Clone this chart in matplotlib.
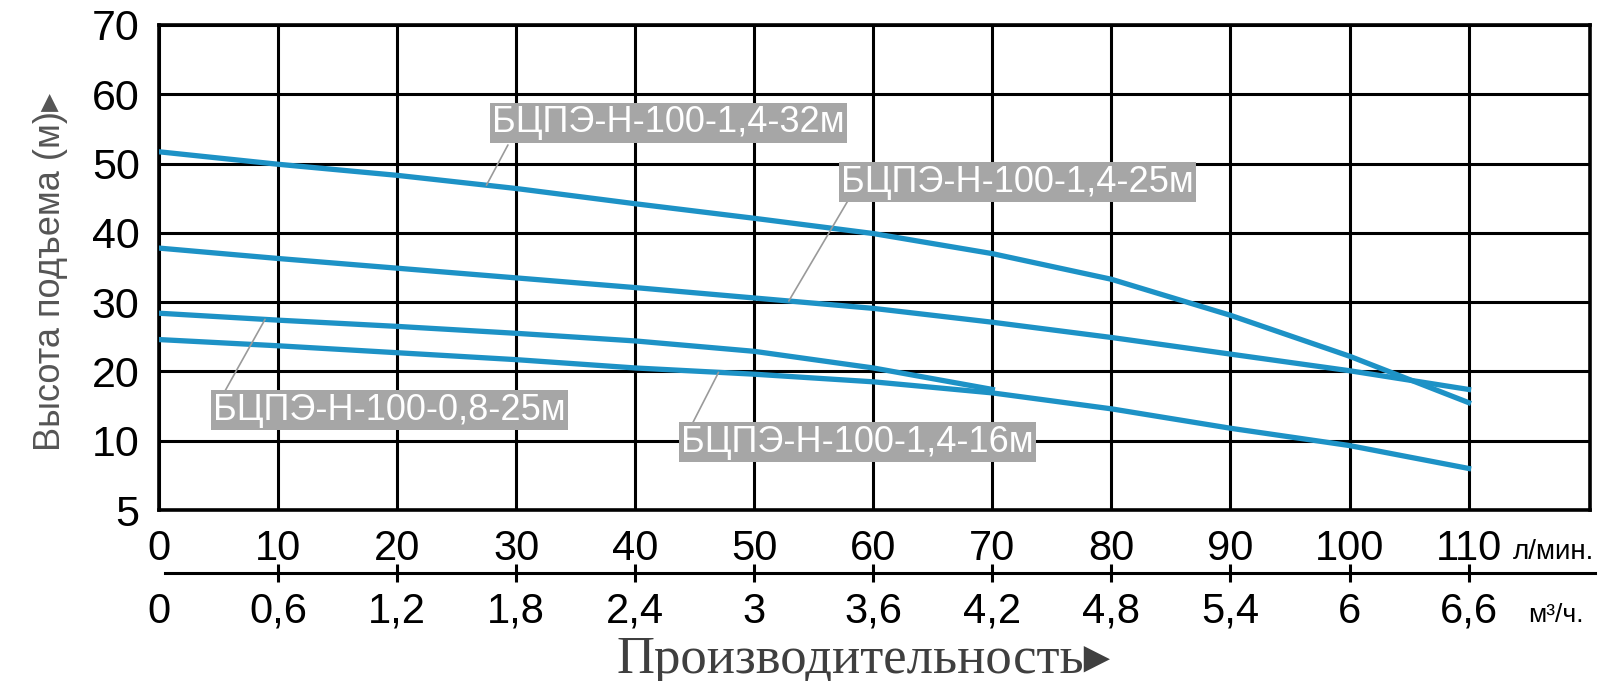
import numpy as np
import matplotlib
matplotlib.use('Agg')
import matplotlib.pyplot as plt

# flow in l/min, head in m
flow = [0, 10, 20, 30, 40, 50, 60, 70, 80, 90, 100, 110]
head_32 = [51.7, 49.9, 48.3, 46.4, 44.2, 42.1, 39.9, 37.0, 33.3, 28.1, 22.2, 15.5]
head_25 = [37.8, 36.3, 34.9, 33.5, 32.1, 30.6, 29.1, 27.1, 24.9, 22.5, 20.1, 17.4]
flow_08 = [0, 10, 20, 30, 40, 50, 60, 70]
head_08 = [28.4, 27.4, 26.5, 25.5, 24.4, 22.9, 20.5, 17.4]
head_16 = [24.6, 23.7, 22.7, 21.7, 20.5, 19.6, 18.5, 16.9, 14.6, 11.8, 9.65, 8.0]

flow_labels = ['0', '10', '20', '30', '40', '50', '60', '70', '80', '90', '100', '110']
m3h_labels = ['0', '0,6', '1,2', '1,8', '2,4', '3', '3,6', '4,2', '4,8', '5,4', '6', '6,6']
head_ticks = [5, 10, 20, 30, 40, 50, 60, 70]

names = ['БЦПЭ-Н-100-1,4-32м', 'БЦПЭ-Н-100-1,4-25м',
         'БЦПЭ-Н-100-0,8-25м', 'БЦПЭ-Н-100-1,4-16м']


# the 5..10 band is drawn as tall as a 10 m band
def forward(v):
    v = np.asarray(v, dtype=float)
    return np.where(v >= 10, v, 2 * v - 10)


def inverse(p):
    p = np.asarray(p, dtype=float)
    return np.where(p >= 10, p, (p + 10) / 2)


plt.rcParams['font.family'] = ['Liberation Sans', 'DejaVu Sans']

fig = plt.figure(figsize=(16.15, 6.81), dpi=100)
ax = fig.add_axes([0.0985, 0.2511, 0.886, 0.7122])
ax.set_yscale('function', functions=(forward, inverse))
ax.set_xlim(0, 120.2)
ax.set_ylim(5, 70)
ax.set_xticks(flow)
ax.set_xticklabels(flow_labels)
ax.set_yticks(head_ticks)
ax.set_yticklabels([str(t) for t in head_ticks])
ax.yaxis.set_minor_locator(matplotlib.ticker.NullLocator())
ax.grid(True, color='black', lw=2.2)
ax.set_axisbelow(True)
ax.tick_params(axis='x', length=0, labelsize=30, pad=14)
ax.tick_params(axis='y', length=0, labelsize=31, pad=14)
for sp in ax.spines.values():
    sp.set_linewidth(2.6)

line_color = '#1d92c6'
series = [(flow, head_32), (flow, head_25), (flow_08, head_08), (flow, head_16)]
for xs, ys in series:
    ax.plot(xs, ys, color=line_color, lw=3.8, zorder=3)

# label boxes with thin leader lines
label_pos = [(0.356, 0.798), (0.600, 0.676), (0.161, 0.206), (0.488, 0.140)]
leader_start = [(0.2438, 0.7526), (0.481, 0.6357), (0.0458, 0.244), (0.3728, 0.1788)]
leader_x = [27.5, 52.9, 8.9, 47.0]
for name, pos, start, lx, (xs, ys) in zip(names, label_pos, leader_start, leader_x, series):
    ax.annotate('', xy=(lx, np.interp(lx, xs, ys)), xycoords='data',
                xytext=start, textcoords='axes fraction',
                arrowprops=dict(arrowstyle='-', color='#9a9a9a', lw=1.2,
                                shrinkA=0, shrinkB=0), zorder=4)
    ax.text(pos[0], pos[1], name, transform=ax.transAxes, ha='center', va='center',
            fontsize=26, color='white', zorder=5,
            bbox=dict(boxstyle='square,pad=0.06', fc='#a6a6a6', ec='none'))

# second flow scale in m3/h
ax2 = fig.add_axes([0.0985, 0.1586, 0.886, 0.01])
ax2.set_xlim(0, 120.2)
ax2.patch.set_alpha(0)
for s in ['top', 'left', 'right']:
    ax2.spines[s].set_visible(False)
ax2.spines['bottom'].set_linewidth(2.2)
ax2.spines['bottom'].set_bounds(0.5, 120.6)
ax2.set_yticks([])
ax2.set_xticks(flow[1:])
ax2.set_xticklabels(m3h_labels[1:])
ax2.set_xticks([0], minor=True)
ax2.set_xticklabels(m3h_labels[:1], minor=True)
ax2.tick_params(axis='x', which='major', direction='inout', length=13, width=2.2,
                labelsize=30, pad=7)
ax2.tick_params(axis='x', which='minor', length=0, labelsize=30, pad=13.5)

fig.text(0.937, 0.189, 'л/мин.', fontsize=20, ha='left', va='center')
fig.text(0.946, 0.097, 'м³/ч.', fontsize=19, ha='left', va='center')

fig.text(0.031, 0.60, 'Высота подъема (м)▸', rotation=90, ha='center', va='center',
         fontsize=26, color='#555555')
fig.text(0.382, 0.012, 'Производительность▸', family=['Liberation Serif', 'DejaVu Serif'],
         fontsize=38, color='#3f3f3f', ha='left', va='baseline')

fig.savefig('out.png', dpi=100)
